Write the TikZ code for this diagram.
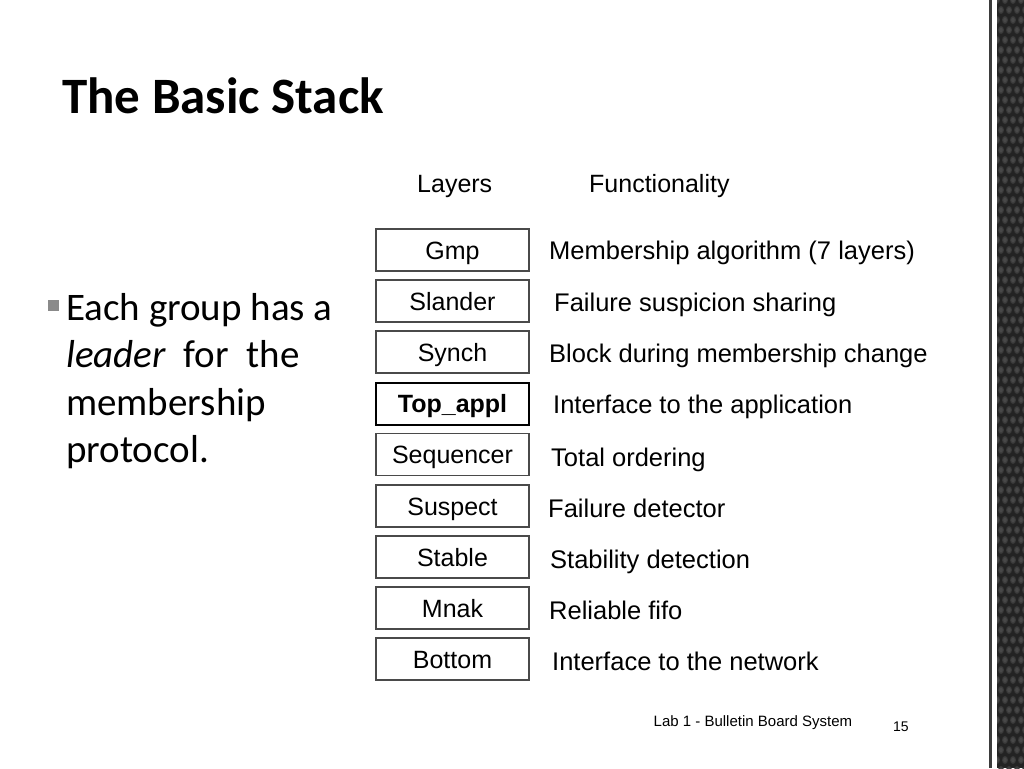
\documentclass[tikz,border=0pt]{standalone}
\usepackage{fontspec}
\setmainfont{Liberation Sans}
\newfontfamily\calfont{Carlito}
\definecolor{boxgray}{HTML}{4A4A4A}
\definecolor{stripdark}{HTML}{232323}
\definecolor{stripdot}{HTML}{393939}
\definecolor{stripdotin}{HTML}{484848}
\definecolor{bulletgray}{HTML}{8A8A8A}
\tikzset{
  layerbox/.style={draw=boxgray, line width=1.1pt, minimum width=153pt, minimum height=42pt,
    inner sep=0pt, text height=20pt, text depth=2pt, font=\fontsize{25}{30}\selectfont},
  topbox/.style={layerbox, draw=black, line width=2pt, font=\fontsize{25}{30}\selectfont\bfseries},
  desc/.style={anchor=base west, inner sep=0pt, font=\fontsize{25.5}{30}\selectfont},
  head/.style={anchor=base west, inner sep=0pt, font=\fontsize{25}{30}\selectfont},
  bul/.style={anchor=base west, inner sep=0pt, font=\calfont\fontsize{39}{46}\selectfont}
}
\begin{document}
\begin{tikzpicture}[x=1pt,y=-1pt]
\useasboundingbox (0,0) rectangle (1024,768);
\fill[white] (0,0) rectangle (1024,768);
% right decorative strip
\fill[boxgray!80!black] (989,0) rectangle (991.5,768);
\begin{scope}
\clip (997,0) rectangle (1024,768);
\fill[stripdark] (997,0) rectangle (1024,768);
\foreach \r in {0,...,77}{
  \pgfmathsetmacro{\yy}{\r*10}
  \pgfmathsetmacro{\xo}{mod(\r,2)*4}
  \foreach \c in {0,...,3}{
    \fill[stripdot] ({997+\xo+\c*8},\yy) ellipse [x radius=3pt, y radius=4pt];
    \fill[stripdotin] ({997+\xo+\c*8},\yy) ellipse [x radius=1.8pt, y radius=2.6pt];
  }
}
\end{scope}
% title
\node[anchor=base west, inner sep=0pt, font=\calfont\bfseries\fontsize{51}{60}\selectfont] (title) at (62,113) {The Basic Stack};
% bullet text
\fill[bulletgray] (48,300) rectangle (59,311);
\node[bul] (b1) at (66,320) {Each group has a};
\node[bul] (b2) at (66,367) {\textit{leader}\ \ for\ \ the};
\node[bul] (b3) at (66,415) {membership};
\node[bul] (b4) at (66,462) {protocol.};
% headers
\node[head] (hlay) at (417,192) {Layers};
\node[head] (hfun) at (589,192) {Functionality};
% layer boxes
\node[layerbox] (gmp) at (452.5,250) {Gmp};
\node[layerbox] (slander) at (452.5,301) {Slander};
\node[layerbox] (synch) at (452.5,352) {Synch};
\node[topbox] (topappl) at (452.5,403.5) {Top\_appl};
\node[layerbox] (seq) at (452.5,454.5) {Sequencer};
\node[layerbox] (suspect) at (452.5,506) {Suspect};
\node[layerbox] (stable) at (452.5,557) {Stable};
\node[layerbox] (mnak) at (452.5,608) {Mnak};
\node[layerbox] (bottom) at (452.5,659) {Bottom};
% descriptions
\node[desc] (d1) at (549,259) {Membership algorithm (7 layers)};
\node[desc] (d2) at (554,311.5) {Failure suspicion sharing};
\node[desc] (d3) at (549,362) {Block during membership change};
\node[desc] (d4) at (553,413) {Interface to the application};
\node[desc] (d5) at (551,466) {Total ordering};
\node[desc] (d6) at (548,517) {Failure detector};
\node[desc] (d7) at (550,568) {Stability detection};
\node[desc] (d8) at (549,619) {Reliable fifo};
\node[desc] (d9) at (552,670) {Interface to the network};
% footer
\node[anchor=base west, inner sep=0pt, font=\fontsize{15}{18}\selectfont] (foot) at (653.5,726.5) {Lab 1 - Bulletin Board System};
\node[anchor=base west, inner sep=0pt, font=\fontsize{14}{17}\selectfont] (pnum) at (893,731) {15};
\end{tikzpicture}
\end{document}
